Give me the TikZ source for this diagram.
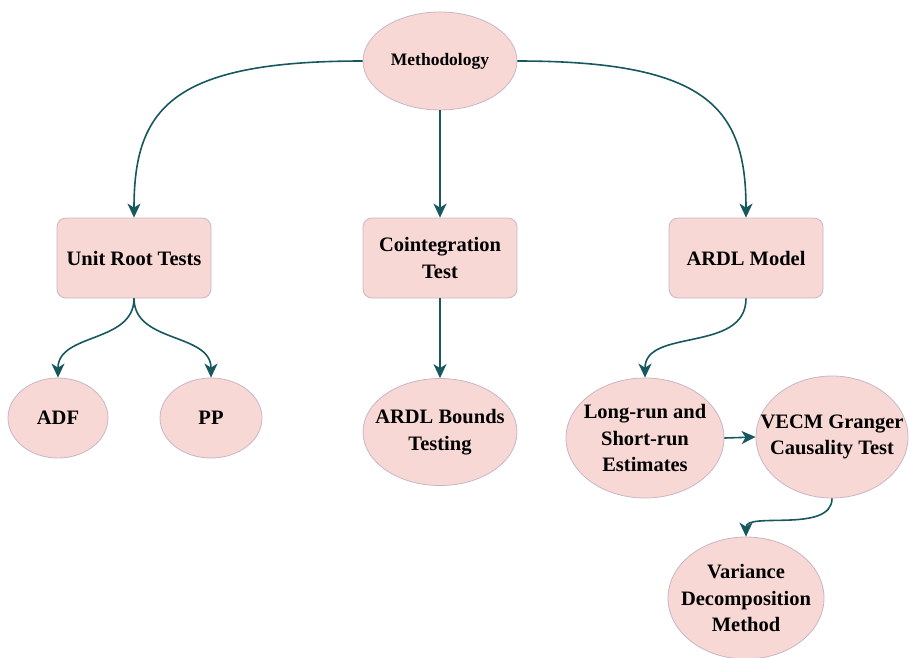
\documentclass[tikz,border=0pt]{standalone}
\usepackage{fontspec}
\setmainfont{Liberation Serif}
\usetikzlibrary{shapes.geometric,arrows.meta}
\definecolor{boxfill}{RGB}{248,216,212}
\definecolor{boxline}{RGB}{200,182,200}
\definecolor{arr}{RGB}{22,88,94}
\tikzset{
  base/.style={fill=boxfill,draw=boxline,line width=0.8pt,align=center,inner sep=0pt,
    font=\fontsize{20.5}{26.5}\selectfont\bfseries},
  rbox/.style={base,rectangle,rounded corners=9pt,minimum width=154pt,minimum height=80pt},
  oval/.style={base,ellipse},
  txt/.style={align=center,inner sep=0pt,font=\fontsize{20.5}{26.5}\selectfont\bfseries},
  conn/.style={draw=arr,line width=1.6pt,-{Stealth[length=14pt,width=13pt,inset=4pt]}}
}
\begin{document}
\begin{tikzpicture}[x=1pt,y=-1pt]
\useasboundingbox (0,0) rectangle (910,657);
\node[oval,minimum width=154pt,minimum height=98pt] (met) at (440,61) {};
\node[txt,font=\fontsize{17.5}{22}\selectfont\bfseries] (metT) at (met) {Methodology};
\node[rbox] (urt) at (134,258) {Unit Root Tests};
\node[rbox] (coi) at (440,258) {Cointegration\\Test};
\node[rbox] (ardl) at (746,258) {ARDL Model};
\node[oval,minimum width=100pt,minimum height=80pt] (adf) at (58,418) {};
\node[txt] (adfT) at (adf) {ADF};
\node[oval,minimum width=102pt,minimum height=80pt] (pp) at (211,418) {};
\node[txt] (ppT) at (pp) {PP};
\node[oval,minimum width=154pt,minimum height=107pt] (bnd) at (440,432) {};
\node[txt] (bndT) at (bnd) {ARDL Bounds\\Testing};
\node[oval,minimum width=158pt,minimum height=120pt] (lr) at (645,438) {};
\node[txt] (lrT) at (lr) {Long-run and\\Short-run\\Estimates};
\node[oval,minimum width=152pt,minimum height=122pt] (vecm) at (832,437) {};
\node[txt] (vecmT) at (vecm) {VECM Granger\\Causality Test};
\node[oval,minimum width=156pt,minimum height=122pt] (var) at (746,598) {};
\node[txt] (varT) at (var) {Variance\\Decomposition\\Method};
\draw[conn] (met.west) .. controls +(-190,0) and +(0,-110) .. (urt.north);
\draw[conn] (met.east) .. controls +(190,0) and +(0,-110) .. (ardl.north);
\draw[conn] (met.south) -- (coi.north);
\draw[conn] (urt.south) .. controls +(0,45) and +(0,-45) .. (adf.north);
\draw[conn] (urt.south) .. controls +(0,45) and +(0,-45) .. (pp.north);
\draw[conn] (coi.south) -- (bnd.north);
\draw[conn] (ardl.south) .. controls +(0,55) and +(0,-50) .. (lr.north);
\draw[conn] (lr.east) -- (vecm.west);
\draw[conn] (vecm.south) .. controls +(0,35) and +(0,-25) .. (var.north);
\end{tikzpicture}
\end{document}
